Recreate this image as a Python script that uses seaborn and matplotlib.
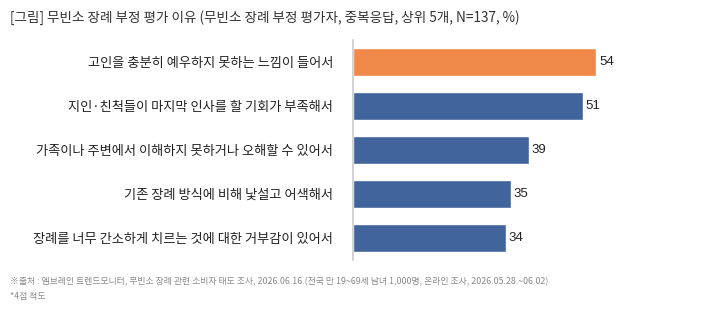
import pandas as pd
import numpy as np
from matplotlib import pyplot as plt
import seaborn as sns

# data
reasons = [
    "고인을 충분히 예우하지 못하는 느낌이 들어서",
    "지인·친척들이 마지막 인사를 할 기회가 부족해서",
    "가족이나 주변에서 이해하지 못하거나 오해할 수 있어서",
    "기존 장례 방식에 비해 낯설고 어색해서",
    "장례를 너무 간소하게 치르는 것에 대한 거부감이 있어서",
]
values = [54, 51, 39, 35, 34]
highlight = [True, False, False, False, False]

title = "[그림] 무빈소 장례 부정 평가 이유 (무빈소 장례 부정 평가자, 중복응답, 상위 5개, N=137, %)"
source = ("※출처 : 엠브레인 트렌드모니터, 무빈소 장례 관련 소비자 태도 조사, 2026.06.16."
          "(전국 만 19~69세 남녀 1,000명, 온라인 조사, 2026.05.28.~06.02)")
note = "*4점 척도"

df = pd.DataFrame({"reason": reasons, "value": values, "hl": highlight})

sns.set_style("white")
plt.rcParams["font.family"] = ["Noto Sans CJK KR", "DejaVu Sans"]

orange = "#F0884A"
blue = "#41649D"
colors = [orange if h else blue for h in df["hl"]]

fig = plt.figure(figsize=(7.14, 3.18), dpi=100)
ax = fig.add_axes([353 / 714, 1 - 260 / 318, (700 - 353) / 714, 220 / 318])

sns.barplot(data=df, y="reason", x="value", hue="reason", palette=colors,
            legend=False, width=0.62, ax=ax, saturation=1)

for i, v in enumerate(df["value"]):
    ax.text(v + 0.6, i, str(v), va="center", ha="left", fontsize=9.5,
            color="#222222", family=["Liberation Sans", "DejaVu Sans"])

ax.set_xlim(0, 77)
ax.set_ylim(4.5, -0.5)
ax.set_xlabel("")
ax.set_ylabel("")
ax.set_xticks([])
ax.tick_params(axis="y", length=0, pad=14.4, labelsize=9.5, labelcolor="#222222")
for s in ["top", "right", "bottom"]:
    ax.spines[s].set_visible(False)
ax.spines["left"].set_color("#cccccc")
ax.spines["left"].set_linewidth(1.2)

fig.text(10 / 714, 1 - 18 / 318, title, fontsize=9.75, color="#333333", va="center")
fig.text(10 / 714, 1 - 282 / 318, source, fontsize=6.4, color="#8a8a8a", va="center")
fig.text(10 / 714, 1 - 297 / 318, note, fontsize=6.4, color="#8a8a8a", va="center")

fig.savefig("out.png", dpi=100)
